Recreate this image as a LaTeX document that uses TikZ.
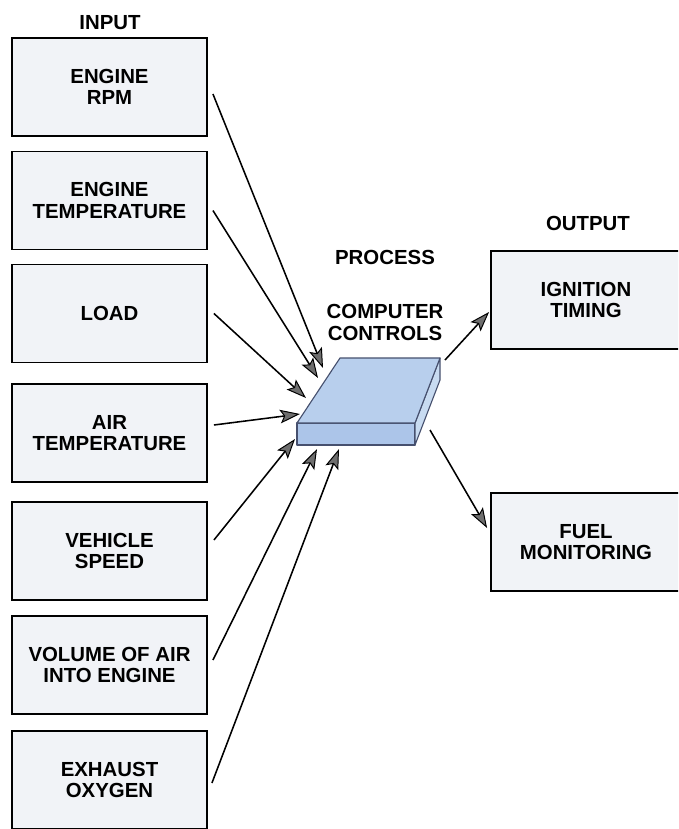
\documentclass[tikz,border=0pt]{standalone}
\usepackage{fontspec}
\setmainfont{Liberation Sans}
\usetikzlibrary{arrows.meta,calc}
\definecolor{ecBox}{RGB}{241,243,247}
\definecolor{ecTop}{RGB}{184,207,237}
\definecolor{ecFront}{RGB}{172,197,233}
\definecolor{ecSide}{RGB}{200,219,241}
\definecolor{ecEdge}{RGB}{70,80,110}
\definecolor{ecTip}{RGB}{110,110,110}
\newcommand{\ecfont}{\fontsize{14.5}{15}\selectfont\bfseries}

\begin{document}
\begin{tikzpicture}[x=0.025cm,y=-0.025cm,
  inbox/.style={draw=black, line width=1.3pt, fill=ecBox, minimum width=4.875cm,
    minimum height=2.45cm, align=center, font=\ecfont},
  outbox/.style={inbox, minimum width=4.75cm},
  head/.style={font=\ecfont, inner sep=0pt, align=center},
  feed/.style={line width=1.1pt, -{Stealth[length=0.5cm, width=0.34cm, inset=0.1cm,
    line width=0.7pt, fill=ecTip]}},
  face/.style={draw=ecEdge, line width=0.8pt, line join=round}]
  \path[use as bounding box, clip] (0,0) rectangle (678,829);
  \fill[white] (0,0) rectangle (678,829);

  % Inputs
  \node[head] (input) at (110,23) {INPUT};
  \node[inbox] (rpm)  at (109.5,87)  {ENGINE\\RPM};
  \node[inbox] (etmp) at (109.5,200.5) {ENGINE\\TEMPERATURE};
  \node[inbox] (load) at (109.5,313.5) {LOAD};
  \node[inbox] (atmp) at (109.5,433) {AIR\\TEMPERATURE};
  \node[inbox] (vspd) at (109.5,551) {VEHICLE\\SPEED};
  \node[inbox] (vair) at (109.5,665) {VOLUME OF AIR\\INTO ENGINE};
  \node[inbox] (exox) at (109.5,780) {EXHAUST\\OXYGEN};

  % Computer block
  \coordinate (bl)  at (340,358);
  \coordinate (br)  at (440,358);
  \coordinate (fr)  at (415,423);
  \coordinate (fl)  at (297,423);
  \coordinate (flb) at (297,445);
  \coordinate (frb) at (415,445);
  \coordinate (brb) at (440,380);
  \filldraw[face, fill=ecFront] (fl) -- (fr) -- (frb) -- (flb) -- cycle;
  \filldraw[face, fill=ecSide] (fr) -- (br) -- (brb) -- (frb) -- cycle;
  \filldraw[face, fill=ecTop] (fl) -- (bl) -- (br) -- (fr) -- cycle;
  \node[head] (proc) at (385,257) {PROCESS};
  \node[head] (comp) at (385,322.5) {COMPUTER\\CONTROLS};

  % where the arrows meet the block
  \coordinate (t1) at (323,368);
  \coordinate (t2) at (318,378);
  \coordinate (t3) at (306,398);
  \coordinate (t4) at (300,414);
  \coordinate (t5) at (295,439);
  \coordinate (t6) at (317,449);
  \coordinate (t7) at (339,449);
  \coordinate (o1) at (445,360);
  \coordinate (o2) at (430,430);

  % Outputs
  \node[head] (output) at (588,223) {OUTPUT};
  \node[outbox] (ign)  at (586,300) {IGNITION\\TIMING};
  \node[outbox] (fuel) at (586,542) {FUEL\\MONITORING};

  % Arrows in
  \draw[feed] ([shift={(5,7)}]rpm.east) -- (t1);
  \draw[feed] ([shift={(5,10)}]etmp.east) -- (t2);
  \draw[feed] ([shift={(6,0)}]load.east) -- (t3);
  \draw[feed] ([shift={(6,-8)}]atmp.east) -- (t4);
  \draw[feed] ([shift={(6,-11)}]vspd.east) -- (t5);
  \draw[feed] ([shift={(5,-5)}]vair.east) -- (t6);
  \draw[feed] ([shift={(4,3)}]exox.east) -- (t7);

  % Arrows out
  \draw[feed] (o1) -- ([shift={(-1,12)}]ign.west);
  \draw[feed] (o2) -- ([shift={(-3,-14)}]fuel.west);
\end{tikzpicture}
\end{document}
